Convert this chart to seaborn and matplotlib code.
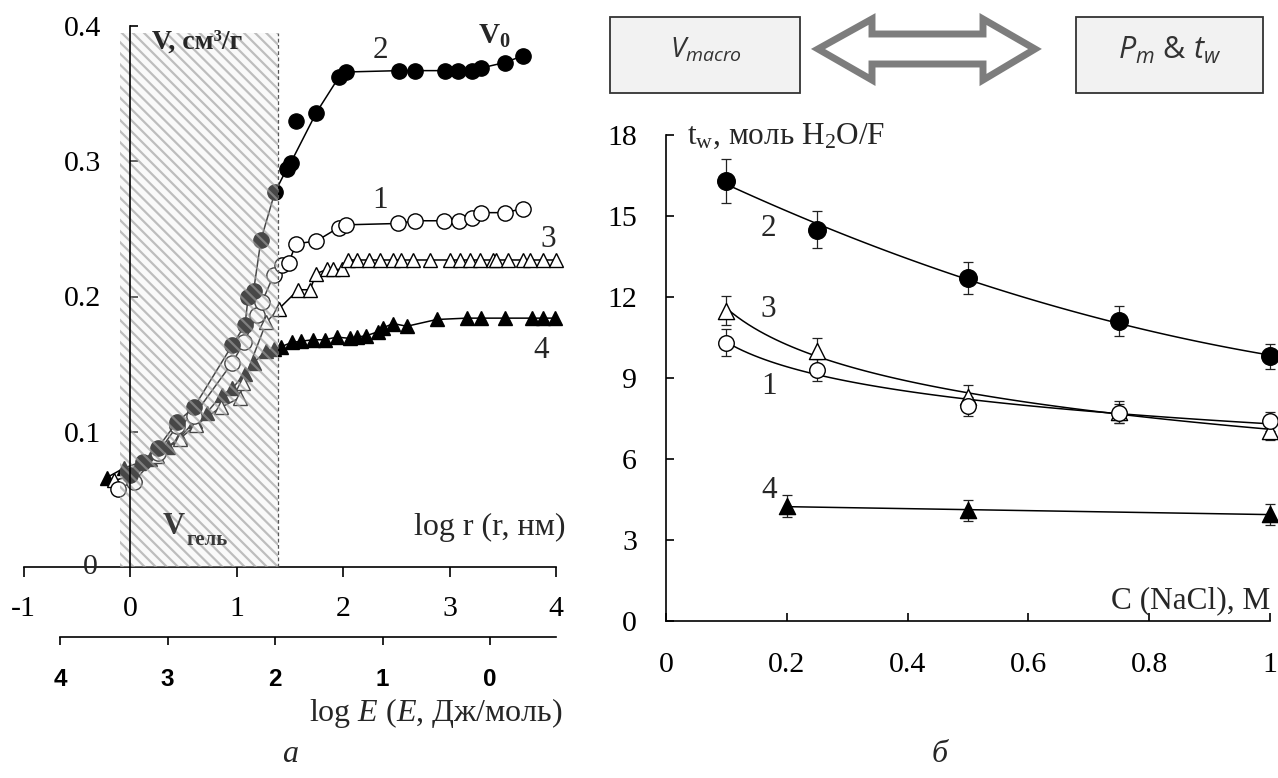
import numpy as np
import pandas as pd
import seaborn as sns
import matplotlib
matplotlib.use("Agg")
import matplotlib.pyplot as plt
from matplotlib.patches import Rectangle, Polygon

# ---------------- data: panel (а) ----------------
x_s1 = [-0.11, 0.04, 0.26, 0.44, 0.60, 0.96, 1.07, 1.19, 1.24, 1.35, 1.43, 1.49, 1.56, 1.75,
        1.96, 2.03, 2.52, 2.68, 2.95, 3.09, 3.21, 3.30, 3.52, 3.69]
y_s1 = [0.058, 0.063, 0.084, 0.104, 0.112, 0.151, 0.166, 0.186, 0.196, 0.216, 0.223, 0.225,
        0.239, 0.241, 0.251, 0.253, 0.254, 0.256, 0.256, 0.256, 0.258, 0.262, 0.262, 0.265]

x_s2 = [0.00, 0.12, 0.26, 0.44, 0.60, 0.96, 1.08, 1.11, 1.16, 1.23, 1.36, 1.47, 1.51, 1.75,
        1.96, 2.03, 2.53, 2.68, 2.96, 3.08, 3.21, 3.30, 3.52, 3.69]
y_s2 = [0.068, 0.078, 0.088, 0.107, 0.118, 0.164, 0.179, 0.200, 0.204, 0.242, 0.277, 0.294,
        0.299, 0.336, 0.362, 0.366, 0.367, 0.367, 0.367, 0.367, 0.367, 0.369, 0.373, 0.378]
x_s2_extra = [1.56]
y_s2_extra = [0.330]

x_s3 = [-0.15, 0.05, 0.25, 0.47, 0.62, 0.85, 1.03, 1.06, 1.28, 1.40, 1.58, 1.69, 1.75, 1.85,
        1.91, 1.99, 2.05, 2.13, 2.24, 2.35, 2.47, 2.54, 2.66, 2.82, 3.00, 3.10, 3.19, 3.29,
        3.41, 3.44, 3.55, 3.69, 3.76, 3.88, 4.00]
y_s3 = [0.064, 0.068, 0.082, 0.095, 0.105, 0.118, 0.125, 0.136, 0.181, 0.191, 0.205, 0.205,
        0.217, 0.220, 0.220, 0.220] + [0.227] * 19

x_s4 = [-0.22, -0.06, 0.08, 0.19, 0.36, 0.47, 0.61, 0.72, 0.86, 0.96, 1.08, 1.16, 1.28, 1.35,
        1.42, 1.52, 1.61, 1.72, 1.83, 1.94, 2.07, 2.13, 2.22, 2.33, 2.38, 2.47, 2.60, 2.88,
        3.16, 3.30, 3.52, 3.77, 3.88, 3.99]
y_s4 = [0.066, 0.073, 0.077, 0.080, 0.089, 0.096, 0.108, 0.114, 0.127, 0.132, 0.143, 0.151,
        0.160, 0.161, 0.163, 0.166, 0.167, 0.168, 0.168, 0.170, 0.169, 0.170, 0.171, 0.174,
        0.177, 0.180, 0.178, 0.183, 0.184, 0.184, 0.184, 0.184, 0.184, 0.184]

left_xticks = [-1, 0, 1, 2, 3, 4]
left_xticklabels = ["-1", "0", "1", "2", "3", "4"]
left_yticks = [0, 0.1, 0.2, 0.3, 0.4]
left_yticklabels = ["0", "0.1", "0.2", "0.3", "0.4"]
energy_ticks = [4, 3, 2, 1, 0]
energy_ticklabels = ["4", "3", "2", "1", "0"]

gel_lo, gel_hi, gel_top = -0.09, 1.393, 0.395

# ---------------- data: panel (б) ----------------
c_nacl = [0.1, 0.25, 0.5, 0.75, 1.0]
tw_1 = [10.3, 9.3, 7.95, 7.7, 7.4]
err_1 = [0.5, 0.4, 0.35, 0.35, 0.35]
tw_2 = [16.3, 14.5, 12.7, 11.1, 9.8]
err_2 = [0.8, 0.7, 0.6, 0.55, 0.45]
tw_3 = [11.5, 10.0, 8.3, 7.75, 7.05]
err_3 = [0.55, 0.5, 0.45, 0.4, 0.35]
c_nacl_4 = [0.2, 0.5, 1.0]
tw_4 = [4.25, 4.1, 3.95]
err_4 = [0.4, 0.4, 0.4]

right_xticks = [0, 0.2, 0.4, 0.6, 0.8, 1.0]
right_xticklabels = ["0", "0.2", "0.4", "0.6", "0.8", "1"]
right_yticks = [0, 3, 6, 9, 12, 15, 18]

# ---------------- style ----------------
sns.set_style("ticks")
plt.rcParams.update({
    "font.family": ["Liberation Serif", "DejaVu Serif"],
    "mathtext.fontset": "custom",
    "mathtext.rm": "Liberation Serif",
    "mathtext.it": "Liberation Serif:italic",
    "mathtext.bf": "Liberation Serif:bold",
    "mathtext.sf": "Open Sans:italic",
    "hatch.linewidth": 1.6,
    "axes.linewidth": 1.2,
    "axes.edgecolor": "black",
    "xtick.color": "black",
    "ytick.color": "black",
    "xtick.major.width": 1.2,
    "ytick.major.width": 1.2,
})

TICK_FS = 21.5
LAB_FS = 22.5

fig = plt.figure(figsize=(12.78, 7.78), dpi=100)

# ---------------- panel (а) ----------------
ax1 = fig.add_axes([23.5 / 1278, 1 - 567 / 778, 532.5 / 1278, 541 / 778])
ax1.set_xlim(-1, 4)
ax1.set_ylim(0, 0.4)
ax1.spines["left"].set_position(("data", 0))
ax1.spines["left"].set_zorder(6)
ax1.spines[["top", "right"]].set_visible(False)

line_kw = dict(ax=ax1, sort=False, estimator=None, color="black", lw=1.1,
               legend=False, clip_on=False, zorder=3)
sns.lineplot(x=x_s4, y=y_s4, marker="^", ms=10, mfc="black", mec="black", mew=1, **line_kw)
sns.lineplot(x=x_s3, y=y_s3, marker="^", ms=10, mfc="white", mec="black", mew=1, **line_kw)
sns.lineplot(x=x_s1, y=y_s1, marker="o", ms=11, mfc="white", mec="black", mew=1, **line_kw)
sns.lineplot(x=x_s2, y=y_s2, marker="o", ms=11, mfc="black", mec="black", mew=1, **line_kw)
sns.scatterplot(x=x_s2_extra, y=y_s2_extra, ax=ax1, marker="o", s=121, color="black",
                edgecolor="black", zorder=3, legend=False)

ax1.add_patch(Rectangle((gel_lo, 0), gel_hi - gel_lo, gel_top,
                        facecolor=(0.93, 0.93, 0.93, 0.3),
                        edgecolor=(0.62, 0.62, 0.62, 0.65), hatch="\\\\\\", lw=0, zorder=5))
ax1.axvline(gel_hi, ymin=0, ymax=gel_top / 0.4, color="#555555", lw=0.9,
            ls=(0, (3, 2)), zorder=5)

ax1.set_xticks(left_xticks)
ax1.set_xticklabels(left_xticklabels)
ax1.set_yticks(left_yticks[1:])
ax1.set_yticklabels(left_yticklabels[1:])
ax1.tick_params(axis="x", direction="out", length=7, pad=14, labelsize=TICK_FS)
ax1.tick_params(axis="y", direction="in", length=6, pad=21, labelsize=TICK_FS)
ax1.text(-0.3, 0.0, "0", fontsize=TICK_FS, ha="right", va="center", zorder=7)
ax1.set_xlabel("")
ax1.set_ylabel("")

ax1.text(0.21, 0.388, "V, см³/г", fontsize=20, fontweight="bold", ha="left",
         va="center", zorder=8)
ax1.text(2.35, 0.382, "2", fontsize=LAB_FS, ha="center", va="center", zorder=8)
ax1.text(3.27, 0.392, r"$\mathbf{V_0}$", fontsize=21, ha="left", va="center", zorder=8)
ax1.text(2.35, 0.271, "1", fontsize=LAB_FS, ha="center", va="center", zorder=8)
ax1.text(3.93, 0.242, "3", fontsize=LAB_FS, ha="center", va="center", zorder=8)
ax1.text(3.86, 0.160, "4", fontsize=LAB_FS, ha="center", va="center", zorder=8)
ax1.text(0.31, 0.030, "V", fontsize=22, fontweight="bold", color="#3a3a3a",
         ha="left", va="center", zorder=8)
ax1.text(0.53, 0.020, "гель", fontsize=15, fontweight="bold", color="#3a3a3a",
         ha="left", va="center", zorder=8)
ax1.text(4.09, 0.029, "log r (r, нм)", fontsize=23, ha="right", va="center", zorder=8)

# secondary energy axis
def r_to_e(x):
    return (3.38 - np.asarray(x)) / 1.009

def e_to_r(e):
    return 3.38 - 1.009 * np.asarray(e)

sec = ax1.secondary_xaxis(-70 / 541, functions=(r_to_e, e_to_r))
sec.set_xticks(energy_ticks)
sec.set_xticklabels(energy_ticklabels, fontfamily="Liberation Sans", fontweight="bold",
                    fontsize=17.5)
sec.tick_params(axis="x", direction="out", length=5.5, pad=17, width=1.2)
sec.spines["bottom"].set_bounds(r_to_e(4.0), 4.0)
sec.spines["bottom"].set_linewidth(1.2)

fig.text(563 / 1278, 1 - 713 / 778, r"log $\mathit{E}$ ($\mathit{E}$, Дж/моль)",
         fontsize=23, ha="right", va="center")
fig.text(290 / 1278, 1 - 754 / 778, "а", fontsize=23, style="italic", ha="center",
         va="center")

# ---------------- panel (б) ----------------
ax2 = fig.add_axes([666 / 1278, 1 - 621 / 778, 604 / 1278, 486 / 778])
ax2.set_xlim(0, 1.0)
ax2.set_ylim(0, 18)
ax2.spines[["top", "right"]].set_visible(False)

# (x, y, err, marker, face, size, fit)
series_b = [
    (c_nacl, tw_2, err_2, "o", "black", 160, "quad"),
    (c_nacl, tw_3, err_3, "^", "white", 135, "log"),
    (c_nacl, tw_1, err_1, "o", "white", 125, "log"),
    (c_nacl_4, tw_4, err_4, "^", "black", 135, "lin"),
]
for cx, ty, er, mk, fc, sz, fit in series_b:
    ax2.errorbar(cx, ty, yerr=er, fmt="none", ecolor="#222222", elinewidth=0.9,
                 capsize=3.5, capthick=0.9, zorder=2, clip_on=False)
    fit_kw = dict(order=2) if fit == "quad" else (dict(logx=True) if fit == "log" else {})
    sns.regplot(x=np.array(cx), y=np.array(ty), ax=ax2, ci=None, scatter=False,
                truncate=True, line_kws=dict(color="black", lw=1.1, zorder=3), **fit_kw)
    sns.scatterplot(x=cx, y=ty, ax=ax2, marker=mk, s=sz, color=fc, edgecolor="black",
                    linewidth=1.0, zorder=4, clip_on=False, legend=False)

ax2.set_xticks(right_xticks)
ax2.set_xticklabels(right_xticklabels)
ax2.set_yticks(right_yticks)
ax2.set_yticklabels([str(v) for v in right_yticks])
ax2.tick_params(axis="x", direction="in", length=6, pad=22, labelsize=TICK_FS)
ax2.tick_params(axis="y", direction="in", length=6, pad=21, labelsize=TICK_FS)
ax2.set_xlabel("")
ax2.set_ylabel("")

ax2.text(0.035, 17.95, r"$\mathrm{t_w}$, моль H$_\mathrm{2}$O/F", fontsize=LAB_FS,
         ha="left", va="center")
ax2.text(1.0, 0.75, "C (NaCl), M", fontsize=LAB_FS, ha="right", va="center")
ax2.text(0.169, 14.54, "2", fontsize=LAB_FS, ha="center", va="center")
ax2.text(0.169, 11.52, "3", fontsize=LAB_FS, ha="center", va="center")
ax2.text(0.171, 8.68, "1", fontsize=LAB_FS, ha="center", va="center")
ax2.text(0.171, 4.85, "4", fontsize=LAB_FS, ha="center", va="center")

fig.text(940 / 1278, 1 - 754 / 778, "б", fontsize=23, style="italic", ha="center",
         va="center")

# ---------------- schematic boxes on top ----------------
axd = fig.add_axes([0, 0, 1, 1], zorder=-1)
axd.set_xlim(0, 1278)
axd.set_ylim(778, 0)
axd.set_axis_off()
axd.add_patch(Rectangle((610, 17), 190, 76, facecolor="#f2f2f2", edgecolor="#333333", lw=1.3))
axd.add_patch(Rectangle((1076, 17), 187, 76, facecolor="#f2f2f2", edgecolor="#333333", lw=1.3))
arrow_pts = [(818, 49), (872, 19), (872, 34), (983, 34), (983, 19), (1035, 49),
             (983, 80), (983, 64), (872, 64), (872, 80)]
axd.add_patch(Polygon(arrow_pts, closed=True, facecolor="white", edgecolor="#7d7d7d",
                      lw=5, joinstyle="miter"))
axd.text(706, 50, r"$\mathsf{V_{macro}}$", fontsize=20, color="#333333",
         ha="center", va="center")
axd.text(1170, 50, r"$\mathsf{P_{m}}$ & $\mathsf{t_{w}}$", fontsize=22, color="#333333",
         ha="center", va="center", fontfamily="Open Sans")

fig.savefig("out.png", dpi=100)
